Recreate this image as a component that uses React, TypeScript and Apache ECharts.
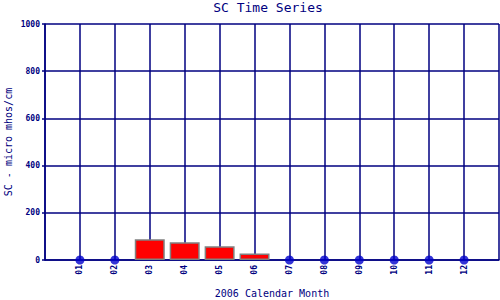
import React, { useEffect, useRef } from "react";
import * as echarts from "echarts";

const months = ["01", "02", "03", "04", "05", "06", "07", "08", "09", "10", "11", "12"];
const barMonths = [3, 4, 5, 6];
const barValues = [88, 75, 58, 28];
const zeroMonths = [1, 2, 7, 8, 9, 10, 11, 12];
const yTicks = [0, 200, 400, 600, 800, 1000];

const NAVY = "#000080";
const FONT = "DejaVu Sans Mono";

export default function App() {
  const ref = useRef<HTMLDivElement>(null);
  useEffect(() => {
    document.body.style.margin = "0";
    const chart = echarts.init(ref.current!, null, { renderer: "svg" });
    chart.setOption({
      animation: false,
      backgroundColor: "#ffffff",
      title: {
        text: "SC Time Series",
        left: 268,
        textAlign: "center",
        top: 1,
        padding: 0,
        textStyle: { fontFamily: FONT, fontSize: 13, fontWeight: "normal", color: NAVY },
      },
      grid: { left: 45, right: 1, top: 24, bottom: 40, containLabel: false, outerBoundsMode: "none" },
      xAxis: {
        type: "value",
        min: 0,
        max: 13,
        interval: 1,
        name: "2006 Calendar Month",
        nameLocation: "middle",
        nameGap: 28,
        nameMoveOverlap: false,
        nameTextStyle: { fontFamily: FONT, fontSize: 10, color: NAVY },
        axisLine: { show: true, lineStyle: { color: NAVY, width: 1.5 } },
        axisTick: { show: false },
        axisLabel: {
          rotate: 90,
          fontFamily: FONT,
          fontSize: 8,
          fontWeight: "bold",
          color: NAVY,
          margin: 5,
          formatter: (v: number) => (v >= 1 && v <= 12 ? months[v - 1] : ""),
        },
        splitLine: { show: true, lineStyle: { color: NAVY, width: 1.5 } },
      },
      yAxis: {
        type: "value",
        min: 0,
        max: 1000,
        interval: 200,
        name: "SC - micro mhos/cm",
        nameLocation: "middle",
        nameGap: 32,
        nameMoveOverlap: false,
        nameTextStyle: { fontFamily: FONT, fontSize: 10, color: NAVY },
        axisLine: { show: true, lineStyle: { color: NAVY, width: 1.5 } },
        axisTick: { show: true, length: 3, lineStyle: { color: NAVY, width: 1.5 } },
        axisLabel: {
          fontFamily: FONT,
          fontSize: 8,
          fontWeight: "bold",
          color: NAVY,
          margin: 5,
          formatter: (v: number) => (yTicks.includes(v) ? String(v) : ""),
        },
        splitLine: { show: true, lineStyle: { color: NAVY, width: 1.5 } },
      },
      series: [
        {
          type: "bar",
          data: barMonths.map((m, i) => [m, barValues[i]]),
          barWidth: 30,
          itemStyle: { color: "#ff0000", borderColor: "#808080", borderWidth: 1.5 },
          z: 3,
        },
        {
          type: "scatter",
          data: zeroMonths.map((m) => [m, 0]),
          symbol: "circle",
          symbolSize: 9,
          itemStyle: { color: "#0000cc" },
          z: 4,
        },
      ],
    });
    return () => chart.dispose();
  }, []);
  return <div ref={ref} style={{ width: 500, height: 300 }} />;
}
